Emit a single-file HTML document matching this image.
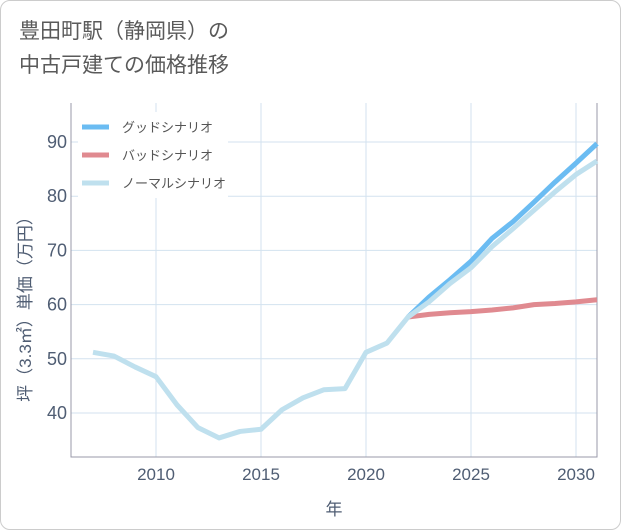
<!DOCTYPE html>
<html><head><meta charset="utf-8"><style>
body{margin:0;background:#fff;}
#wrap{position:relative;width:619px;height:528px;border:1px solid #ccc;border-radius:10px;background:#fff;font-family:"Liberation Sans","Noto Sans CJK JP",sans-serif;overflow:hidden;}
#title{position:absolute;left:18px;top:14px;font-size:21px;line-height:34px;color:#5a5a5a;}
</style></head><body>
<div id="wrap">
<div id="title">豊田町駅（静岡県）の<br>中古戸建ての価格推移</div>
<svg id="chart" width="621" height="530" style="position:absolute;left:-1px;top:-1px"></svg>
</div>
<script>
const years=[2007,2008,2009,2010,2011,2012,2013,2014,2015,2016,2017,2018,2019,2020,2021,2022,2023,2024,2025,2026,2027,2028,2029,2030,2031];
const normalVals=[51.2,50.5,48.5,46.7,41.5,37.3,35.4,36.6,37.0,40.6,42.8,44.3,44.5,51.2,52.9,57.7,60.5,63.9,66.8,70.7,74.0,77.4,80.8,84.0,86.5];
const goodYears=[2022,2023,2024,2025,2026,2027,2028,2029,2030,2031];
const goodVals=[57.7,61.4,64.6,68.0,72.2,75.3,78.9,82.6,86.1,89.7];
const badVals=[57.7,58.2,58.5,58.7,59.0,59.4,60.0,60.2,60.5,60.9];
const xTicks=[2010,2015,2020,2025,2030];
const yTicks=[40,50,60,70,80,90];
const legendLabels=["グッドシナリオ","バッドシナリオ","ノーマルシナリオ"];
const legendColors=["#6bbcf2","#e08a90","#bfe0ee"];

const NS="http://www.w3.org/2000/svg";
const svg=document.getElementById('chart');
const L=71,R=597,T=103,B=457;
const x=v=>156+(v-2010)*21;
const y=v=>142+(90-v)*5.42;
function mk(tag,attrs,parent){const e=document.createElementNS(NS,tag);for(const k in attrs)e.setAttribute(k,attrs[k]);(parent||svg).appendChild(e);return e;}
xTicks.forEach(t=>{
 const g=mk('line',{x1:x(t),x2:x(t),y1:T,y2:B,stroke:'#d3e2ef','stroke-width':1});
 
 
 const tx=mk('text',{x:x(t),y:480,'text-anchor':'middle','font-size':17,fill:'#4f5d73'});
 tx.textContent=t;
 
 
});
yTicks.forEach(t=>{
 const g=mk('line',{x1:L,x2:R,y1:y(t),y2:y(t),stroke:'#d3e2ef','stroke-width':1});
 
 
 const tx=mk('text',{x:67,y:y(t)+6,'text-anchor':'end','font-size':18,fill:'#4f5d73'});
 tx.textContent=t;
 
 
});
const ax=mk('path',{d:`M${L},${T}V${B}H${R}V${T}`,fill:'none',stroke:'#99a',"stroke-width":1});


function line(xs,vs,color,name){
 const p=mk('polyline',{points:xs.map((v,i)=>x(v)+','+y(vs[i])).join(' '),fill:'none',stroke:color,'stroke-width':5,'stroke-linejoin':'round'});
 
 
}
line(goodYears,goodVals,legendColors[0],'good-scenario-line');
line(goodYears,badVals,legendColors[1],'bad-scenario-line');
line(years,normalVals,legendColors[2],'normal-scenario-line');
const bg=mk('rect',{x:78,y:112,width:150,height:86,fill:'#fff'});


legendLabels.forEach((lb,i)=>{
 const yy=127+i*28;
 const s=mk('line',{x1:82,x2:109,y1:yy,y2:yy,stroke:legendColors[i],'stroke-width':5});
 
 
 const t=mk('text',{x:122,y:yy+5,'font-size':13,fill:'#555'});
 t.textContent=lb;
 
 
});
const xt=mk('text',{x:334,y:515,'text-anchor':'middle','font-size':17,fill:'#4f5d73'});
xt.textContent='年';


const yt=mk('text',{x:0,y:0,'text-anchor':'middle','font-size':17,fill:'#4f5d73',transform:'translate(31,305) rotate(-90)'});
yt.textContent='坪（3.3㎡）単価（万円）';


</script>
</body></html>
